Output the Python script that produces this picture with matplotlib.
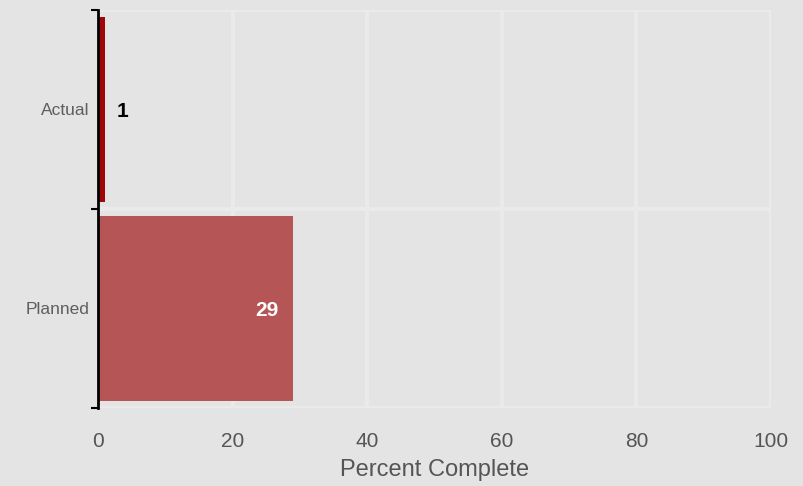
import matplotlib.pyplot as plt
import numpy as np

# data
categories = ["Planned", "Actual"]
values = [29, 1]
bar_colors = ["#b45050", "#9e0000"]
label_colors = ["white", "black"]

plt.rcParams['font.family'] = ['Liberation Sans', 'DejaVu Sans']

bg = "#e4e4e4"
fig = plt.figure(figsize=(8.04, 4.86), dpi=100, facecolor=bg)
ax = fig.add_axes([98 / 804, 1 - 408 / 486, (771 - 98) / 804, (408 - 10) / 486])
ax.set_facecolor(bg)

y = np.arange(len(categories))
ax.barh(y, values, height=0.93, color=bar_colors, alpha=0.97, zorder=3)

for yi, v, c in zip(y, values, label_colors):
    if c == "white":
        ax.text(v - 2.2, yi - 0.01, str(v), ha='right', va='center', color=c,
                fontsize=15, fontweight='bold', zorder=4)
    else:
        ax.text(v + 1.7, yi - 0.01, str(v), ha='left', va='center', color=c,
                fontsize=15, fontweight='bold', zorder=4)

ax.set_xlim(0, 100)
ax.set_ylim(-0.5, 1.5)
ax.set_xticks([0, 20, 40, 60, 80, 100])
ax.set_yticks([-0.5, 0.5, 1.5])
ax.set_yticklabels([])
ax.set_yticks(y, minor=True)
ax.set_yticklabels(categories, minor=True)
ax.tick_params(axis='y', which='major', length=5, width=1.5, color='black', direction='out')
ax.tick_params(axis='y', which='minor', length=0, labelsize=12.5, labelcolor='#5e5e5e', pad=6)
ax.tick_params(axis='x', length=0, labelsize=15, labelcolor='#555555', pad=17)

ax.grid(True, which='major', color='#eaeaea', linewidth=3, zorder=1)
ax.set_axisbelow(True)
for s in ['top', 'right', 'bottom']:
    ax.spines[s].set_visible(False)
ax.spines['left'].set_linewidth(2)
ax.spines['left'].set_color('black')
ax.spines['left'].set_zorder(5)

ax.set_xlabel("Percent Complete", fontsize=17, color='#555555', labelpad=6)

fig.savefig("out.png", dpi=100, facecolor=bg)
